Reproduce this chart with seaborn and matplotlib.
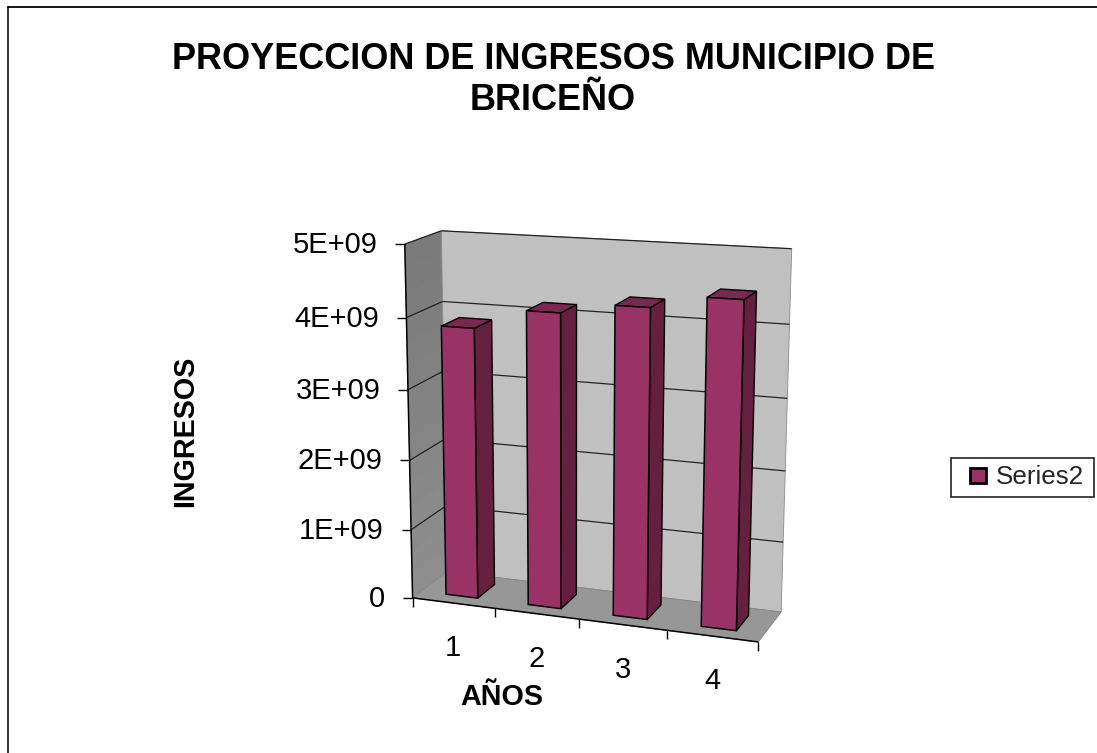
import numpy as np
import pandas as pd
import matplotlib
matplotlib.use("Agg")
import matplotlib.pyplot as plt
import seaborn as sns
from matplotlib.legend_handler import HandlerPatch
from matplotlib.patches import Polygon, Patch, Rectangle
from matplotlib.transforms import Affine2D, Transform

years = ["1", "2", "3", "4"]
ingresos = [3.85e9, 4.14e9, 4.29e9, 4.47e9]
series_name = "Series2"
y_ticks = [0, 1e9, 2e9, 3e9, 4e9, 5e9]
y_tick_labels = ["0", "1E+09", "2E+09", "3E+09", "4E+09", "5E+09"]
title = "PROYECCION DE INGRESOS MUNICIPIO DE\nBRICEÑO"
xlabel = "AÑOS"
ylabel = "INGRESOS"

W, H = 1097, 753
BAR_FRONT, BAR_BACK = 0.25, 0.76

# camera calibration for the oblique 3D look: (category edge, value in 1e9, depth) -> pixel
calib_world = np.array([
    (0, 0, 0), (0, 5, 0), (0, 5, 1), (0, 0, 1), (4, 5, 1), (4, 0, 1), (4, 0, 0),
    (1, 0, 0), (2, 0, 0), (3, 0, 0), (4, 4, 1), (4, 3, 1), (0, 4, 1), (0, 4, 0), (0, 2, 0),
], float)
calib_px = np.array([
    (414, 597), (404, 244), (443, 231), (445, 573), (792, 248), (782, 610), (759, 643),
    (496, 608), (579, 619), (666, 631), (789, 325), (787, 399), (443, 301), (405, 318), (410, 460),
], float)


def fit_camera(world, px):
    rows = []
    for (x, v, d), (u, w) in zip(world, px):
        p = [x, v, d, 1]
        rows.append(p + [0, 0, 0, 0] + [-u * c for c in p])
        rows.append([0, 0, 0, 0] + p + [-w * c for c in p])
    return np.linalg.svd(np.array(rows))[2][-1].reshape(3, 4)


CAM = fit_camera(calib_world, calib_px)


def project(x, v, d):
    h = CAM @ np.array([x, v, d, 1.0])
    return h[:2] / h[2]


class PlaneTransform(Transform):
    """Seaborn data coordinates (category, value) -> display, on a plane of fixed depth."""
    input_dims = output_dims = 2

    def __init__(self, plane_depth):
        super().__init__()
        self.plane_depth = plane_depth

    def transform_non_affine(self, values):
        values = np.asarray(values, float)
        out = [project(a + 0.5, b / 1e9, self.plane_depth) for a, b in values]
        out = np.array(out).reshape(-1, 2)
        out[:, 1] = H - out[:, 1]
        return out


sns.set_theme(style="white", rc={"font.family": ["Liberation Sans", "DejaVu Sans"]})
plt.rcParams["font.family"] = ["Liberation Sans", "DejaVu Sans"]
fig = plt.figure(figsize=(W / 100, H / 100), dpi=100, facecolor="white")
ax = fig.add_axes([396 / W, 1 - 643 / H, 396 / W, 412 / H])
px = Affine2D().scale(1, -1).translate(0, H)

df = pd.DataFrame({"anio": years, "ingresos": ingresos})
sns.barplot(data=df, x="anio", y="ingresos", color="#993366", saturation=1, width=0.39,
            edgecolor="black", linewidth=1.1, ax=ax, errorbar=None)
ax.set_xlim(-0.5, 3.5)
ax.set_ylim(0, 5e9)
ax.patch.set_visible(False)
sns.despine(ax=ax, left=True, bottom=True)
ax.set_xticks([])
ax.set_yticks([])
bars = [p for p in ax.patches if isinstance(p, Rectangle)]


def face(points, color, z, edge="black", lw=1.0):
    pts = [project(*p) for p in points]
    ax.add_patch(Polygon(pts, closed=True, facecolor=color, edgecolor=edge, linewidth=lw,
                         transform=px, clip_on=False, zorder=z))


def seg(p, q, z=2, color="black", lw=1.0):
    ax.plot([p[0], q[0]], [p[1], q[1]], color=color, lw=lw, transform=px, clip_on=False,
            zorder=z, solid_capstyle="butt")


# walls and floor (left wall has a soft vertical shade)
shade_edges = np.linspace(0, 5, 16)
shade_grey = np.linspace(0x8E, 0x7A, 15) / 255
for lo, hi, g in zip(shade_edges[:-1], shade_edges[1:], shade_grey):
    col = (g, g, g)
    face([(0, lo, 0), (0, hi, 0), (0, hi, 1), (0, lo, 1)], col, 1, edge=col, lw=0.5)
face([(0, 0, 1), (0, 5, 1), (4, 5, 1), (4, 0, 1)], "#C0C0C0", 1, edge="#8c8c8c", lw=0.6)
face([(0, 0, 0), (0, 0, 1), (4, 0, 1), (4, 0, 0)], "#979797", 1.2, edge="#858585", lw=0.6)

# gridlines, ticks, value labels
for v, lab in zip(y_ticks, y_tick_labels):
    val = v / 1e9
    a, b, c = project(0, val, 0), project(0, val, 1), project(4, val, 1)
    if val > 0:
        seg(a, b, lw=0.9, color="#222222")
        seg(b, c, lw=0.9, color="#222222")
    seg(a, a - np.array([9.5, 0]))
    ax.text(a[0] - 27.5, a[1] + 1, lab, transform=px, ha="right", va="center", fontsize=21,
            color="black", clip_on=False)
seg(project(0, 0, 0), project(0, 5, 0), z=3, lw=1.1)
seg(project(0, 0, 0), project(4, 0, 0), z=3, lw=1.1)

# category ticks and labels
for i in range(5):
    a = project(i, 0, 0)
    seg(a, a + np.array([0, 9]), z=3)
for i, lab in enumerate(years):
    a = project(i + 0.5, 0, 0)
    ax.text(a[0], a[1] + 45, lab, transform=px, ha="center", va="center", fontsize=21,
            color="black", clip_on=False)

# bars: seaborn's rectangles become the front face, extruded to depth
front = PlaneTransform(BAR_FRONT)
for bar in bars:
    x0 = bar.get_x() + 0.5
    x1 = x0 + bar.get_width()
    v = bar.get_height() / 1e9
    face([(x1, 0, BAR_FRONT), (x1, v, BAR_FRONT), (x1, v, BAR_BACK), (x1, 0, BAR_BACK)],
         "#66203F", 4)
    face([(x0, v, BAR_FRONT), (x1, v, BAR_FRONT), (x1, v, BAR_BACK), (x0, v, BAR_BACK)],
         "#7A2851", 4)
    bar.set_transform(front)
    bar.set_clip_on(False)
    bar.set_zorder(5)

# titles
ax.set_title(title, fontsize=26, fontweight="bold", color="black", y=1.0, linespacing=1.2)
ax.title.set_transform(px)
ax.title.set_position((553, 80))
ax.title.set_ha("center")
ax.title.set_va("center")
ax.set_xlabel(xlabel, fontsize=20.7, fontweight="bold", color="black")
ax.xaxis.set_label_coords(502, 697, transform=px)
ax.xaxis.label.set_va("center")
ax.set_ylabel(ylabel, fontsize=20.7, fontweight="bold", color="black")
ax.yaxis.set_label_coords(185, 431, transform=px)
ax.yaxis.label.set_va("center")


def small_square(legend, orig_handle, xdescent, ydescent, width, height, fontsize):
    # legend handle units are points
    return Rectangle((width - 11.5, height / 2 - 5.5), 11.5, 10.8)


# legend
leg = ax.legend(handles=[Patch(facecolor="#993366", edgecolor="black", linewidth=2, label=series_name)],
                loc="center", bbox_to_anchor=(951, 498, 143, -41), bbox_transform=px, mode="expand",
                fontsize=18.7, frameon=True, fancybox=False, edgecolor="#222222", framealpha=1,
                handlelength=1.05, handletextpad=0.37, borderpad=0.3, borderaxespad=0,
                handler_map={Patch: HandlerPatch(patch_func=small_square)})
leg.get_frame().set_linewidth(1.2)

# chart-area border visible in the source (top and left only)
fig.add_artist(plt.Line2D([8 / W, 8 / W], [0, 1 - 7 / H], color="#222222", lw=1.3))
fig.add_artist(plt.Line2D([8 / W, 1], [1 - 7 / H, 1 - 7 / H], color="black", lw=1.3))

fig.savefig("out.png", dpi=100, facecolor="white")
